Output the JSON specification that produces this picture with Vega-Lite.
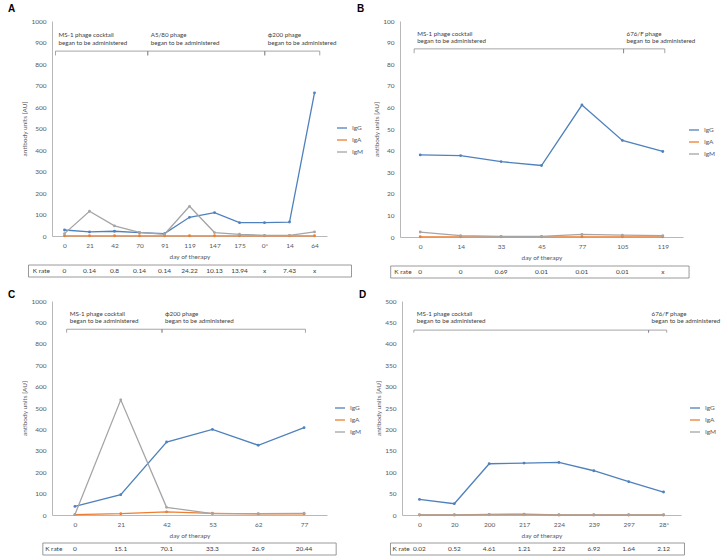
{
  "$schema": "https://vega.github.io/schema/vega-lite/v6.json",
  "padding": {"left": 8, "top": 4, "right": 0, "bottom": 0},
  "config": {
    "view": {"stroke": null},
    "font": "Lato",
    "axis": {"domainColor": "#a6a6a6", "domainWidth": 0.8, "ticks": false, "grid": false, "labelFontSize": 6.5, "labelColor": "#595959", "titleFontSize": 6.5, "titleFontWeight": "normal", "titleColor": "#595959", "labelPadding": 6, "labelOverlap": false, "labelFlush": false},
    "axisX": {"titlePadding": 5},
    "axisY": {"titlePadding": 3, "format": "d"},
    "legend": {"labelFontSize": 6.5, "labelColor": "#595959", "symbolType": "stroke", "symbolSize": 100, "symbolStrokeWidth": 1.3, "rowPadding": 2, "orient": "none", "title": null, "padding": 0},
    "text": {"fontSize": 6.5, "color": "#404040"},
    "title": {"fontSize": 10, "fontWeight": "bold", "font": "Liberation Sans", "anchor": "start", "frame": "group", "color": "#000000"},
    "line": {"strokeWidth": 1.3}
  },
  "datasets": {
    "A": [
      {"idx": 0, "day": "0", "IgG": 28, "IgA": 1, "IgM": 11, "K": "0"},
      {"idx": 1, "day": "21", "IgG": 19, "IgA": 1, "IgM": 115, "K": "0.14"},
      {"idx": 2, "day": "42", "IgG": 22, "IgA": 1, "IgM": 47, "K": "0.8"},
      {"idx": 3, "day": "70", "IgG": 16, "IgA": 1, "IgM": 17, "K": "0.14"},
      {"idx": 4, "day": "91", "IgG": 11, "IgA": 1, "IgM": 8, "K": "0.14"},
      {"idx": 5, "day": "119", "IgG": 87, "IgA": 1, "IgM": 138, "K": "24.22"},
      {"idx": 6, "day": "147", "IgG": 109, "IgA": 1, "IgM": 16, "K": "10.13"},
      {"idx": 7, "day": "175", "IgG": 62, "IgA": 1, "IgM": 8, "K": "13.94"},
      {"idx": 8, "day": "0*", "IgG": 62, "IgA": 1, "IgM": 3, "K": "x"},
      {"idx": 9, "day": "14", "IgG": 65, "IgA": 1, "IgM": 3, "K": "7.43"},
      {"idx": 10, "day": "64", "IgG": 666, "IgA": 1, "IgM": 19, "K": "x"}
    ],
    "B": [
      {"idx": 0, "day": "0", "IgG": 38.0, "IgA": 0.1, "IgM": 2.3, "K": "0"},
      {"idx": 1, "day": "14", "IgG": 37.7, "IgA": 0.1, "IgM": 0.6, "K": "0"},
      {"idx": 2, "day": "33", "IgG": 34.9, "IgA": 0.1, "IgM": 0.3, "K": "0.69"},
      {"idx": 3, "day": "45", "IgG": 33.1, "IgA": 0.1, "IgM": 0.3, "K": "0.01"},
      {"idx": 4, "day": "77", "IgG": 61.1, "IgA": 0.1, "IgM": 1.2, "K": "0.01"},
      {"idx": 5, "day": "105", "IgG": 44.7, "IgA": 0.1, "IgM": 0.9, "K": "0.01"},
      {"idx": 6, "day": "119", "IgG": 39.6, "IgA": 0.1, "IgM": 0.6, "K": "x"}
    ],
    "C": [
      {"idx": 0, "day": "0", "IgG": 40, "IgA": 2, "IgM": 2, "K": "0"},
      {"idx": 1, "day": "21", "IgG": 95, "IgA": 6, "IgM": 538, "K": "15.1"},
      {"idx": 2, "day": "42", "IgG": 341, "IgA": 15, "IgM": 36, "K": "70.1"},
      {"idx": 3, "day": "53", "IgG": 400, "IgA": 8, "IgM": 6, "K": "33.3"},
      {"idx": 4, "day": "62", "IgG": 326, "IgA": 5, "IgM": 6, "K": "26.9"},
      {"idx": 5, "day": "77", "IgG": 408, "IgA": 5, "IgM": 8, "K": "20.44"}
    ],
    "D": [
      {"idx": 0, "day": "0", "IgG": 36.5, "IgA": 0, "IgM": 0.5, "K": "0.02"},
      {"idx": 1, "day": "20", "IgG": 26.4, "IgA": 0, "IgM": 0.5, "K": "0.52"},
      {"idx": 2, "day": "200", "IgG": 119.8, "IgA": 1.5, "IgM": 0.5, "K": "4.61"},
      {"idx": 3, "day": "217", "IgG": 121.3, "IgA": 2, "IgM": 0.5, "K": "1.21"},
      {"idx": 4, "day": "224", "IgG": 122.9, "IgA": 0, "IgM": 0.5, "K": "2.22"},
      {"idx": 5, "day": "239", "IgG": 103.4, "IgA": 0, "IgM": 0.5, "K": "6.92"},
      {"idx": 6, "day": "297", "IgG": 77.8, "IgA": 0, "IgM": 0.5, "K": "1.64"},
      {"idx": 7, "day": "28*", "IgG": 53.7, "IgA": 0, "IgM": 0.5, "K": "2.12"}
    ],
    "A_ph": [
      {"start": -0.36, "end": 3.33, "label": "MS-1 phage cocktail\nbegan to be administered"},
      {"start": 3.33, "end": 8.01, "label": "A5/80 phage\nbegan to be administered"},
      {"start": 8.01, "end": 10.21, "label": "ϕ200 phage\nbegan to be administered"}
    ],
    "B_ph": [
      {"start": -0.15, "end": 5.03, "label": "MS-1 phage cocktail\nbegan to be administered"},
      {"start": 5.03, "end": 6.05, "label": "676/F phage\nbegan to be administered"}
    ],
    "C_ph": [
      {"start": -0.18, "end": 1.9, "label": "MS-1 phage cocktail\nbegan to be administered"},
      {"start": 1.9, "end": 5.03, "label": "ϕ200 phage\nbegan to be administered"}
    ],
    "D_ph": [
      {"start": -0.16, "end": 6.57, "label": "MS-1 phage cocktail\nbegan to be administered"},
      {"start": 6.57, "end": 7.09, "label": "676/F phage\nbegan to be administered"}
    ]
  },
  "resolve": {"scale": {"color": "independent", "x": "independent", "y": "independent"}, "legend": {"color": "independent"}},
  "spacing": 11,
  "vconcat": [
    {
      "spacing": -7,
      "resolve": {"scale": {"color": "independent", "x": "independent", "y": "independent"}, "legend": {"color": "independent"}},
      "hconcat": [
        {
          "spacing": 4,
          "resolve": {"scale": {"color": "independent", "x": "independent", "y": "independent"}, "legend": {"color": "independent"}},
          "vconcat": [
            {
              "width": 275, "height": 215,
              "title": {"text": "A", "dx": -44, "offset": 4},
              "layer": [
                {
                  "data": {"name": "A"},
                  "transform": [{"fold": ["IgG", "IgA", "IgM"], "as": ["series", "value"]}],
                  "mark": {"type": "line", "point": {"filled": true, "size": 8}},
                  "encoding": {
                    "x": {"field": "idx", "type": "quantitative", "title": "day of therapy", "scale": {"domain": [-0.5, 10.5], "nice": false, "zero": false}, "axis": {"labelOverlap": false, "values": [0,1,2,3,4,5,6,7,8,9,10], "labelExpr": "['0','21','42','70','91','119','147','175','0*','14','64'][datum.value]"}},
                    "y": {"field": "value", "type": "quantitative", "title": "antibody units [AU]", "scale": {"domain": [0, 1000], "nice": false}, "axis": {"labelOverlap": false, "values": [0,100,200,300,400,500,600,700,800,900,1000]}},
                    "color": {"field": "series", "type": "nominal", "scale": {"domain": ["IgG", "IgA", "IgM"], "range": ["#4f81bd", "#ed7d31", "#a5a5a5"]}, "legend": {"legendX": 284, "legendY": 101}}
                  }
                },
                {
                  "data": {"name": "A_ph"},
                  "mark": {"type": "rule", "stroke": "#808080", "strokeWidth": 0.7},
                  "encoding": {"x": {"field": "start", "type": "quantitative", "title": "day of therapy", "axis": {"labelOverlap": false, "values": [0,1,2,3,4,5,6,7,8,9,10], "labelExpr": "['0','21','42','70','91','119','147','175','0*','14','64'][datum.value]"}}, "x2": {"field": "end"}, "y": {"datum": 860, "type": "quantitative", "title": "antibody units [AU]", "axis": {"labelOverlap": false, "values": [0,100,200,300,400,500,600,700,800,900,1000]}}}
                },
                {
                  "data": {"name": "A_ph"},
                  "mark": {"type": "rule", "stroke": "#808080", "strokeWidth": 0.7},
                  "encoding": {"x": {"field": "start", "type": "quantitative", "title": "day of therapy", "axis": {"labelOverlap": false, "values": [0,1,2,3,4,5,6,7,8,9,10], "labelExpr": "['0','21','42','70','91','119','147','175','0*','14','64'][datum.value]"}}, "y": {"datum": 860, "type": "quantitative", "title": "antibody units [AU]", "axis": {"labelOverlap": false, "values": [0,100,200,300,400,500,600,700,800,900,1000]}}, "y2": {"datum": 840}}
                },
                {
                  "data": {"name": "A_ph"},
                  "mark": {"type": "rule", "stroke": "#808080", "strokeWidth": 0.7},
                  "encoding": {"x": {"field": "end", "type": "quantitative", "title": "day of therapy", "axis": {"labelOverlap": false, "values": [0,1,2,3,4,5,6,7,8,9,10], "labelExpr": "['0','21','42','70','91','119','147','175','0*','14','64'][datum.value]"}}, "y": {"datum": 860, "type": "quantitative", "title": "antibody units [AU]", "axis": {"labelOverlap": false, "values": [0,100,200,300,400,500,600,700,800,900,1000]}}, "y2": {"datum": 840}}
                },
                {
                  "data": {"name": "A_ph"},
                  "mark": {"type": "text", "align": "left", "baseline": "top", "dx": 3, "lineBreak": "\n", "lineHeight": 7.3, "fontSize": 6.2},
                  "encoding": {"x": {"field": "start", "type": "quantitative", "title": "day of therapy", "axis": {"labelOverlap": false, "values": [0,1,2,3,4,5,6,7,8,9,10], "labelExpr": "['0','21','42','70','91','119','147','175','0*','14','64'][datum.value]"}}, "y": {"datum": 947, "type": "quantitative", "title": "antibody units [AU]", "axis": {"labelOverlap": false, "values": [0,100,200,300,400,500,600,700,800,900,1000]}}, "text": {"field": "label"}}
                }
              ]
            },
            {
              "width": 275, "height": 12,
              "layer": [
                {
                  "data": {"values": [{}]},
                  "mark": {"type": "rect", "fillOpacity": 0, "stroke": "#808080", "strokeWidth": 0.8},
                  "encoding": {"x": {"datum": -1.44, "type": "quantitative", "scale": {"domain": [-0.5, 10.5], "nice": false, "zero": false}, "axis": null}, "x2": {"datum": 11.48}}
                },
                {
                  "data": {"name": "A"},
                  "mark": {"type": "text"},
                  "encoding": {"x": {"field": "idx", "type": "quantitative", "axis": null}, "text": {"field": "K"}}
                },
                {
                  "data": {"values": [{}]},
                  "mark": {"type": "text", "align": "left"},
                  "encoding": {"x": {"datum": -1.27, "type": "quantitative", "axis": null}, "text": {"value": "K rate"}}
                }
              ]
            }
          ]
        },
        {
          "spacing": 4,
          "resolve": {"scale": {"color": "independent", "x": "independent", "y": "independent"}, "legend": {"color": "independent"}},
          "vconcat": [
            {
              "width": 283, "height": 216,
              "title": {"text": "B", "dx": -43, "offset": 4},
              "layer": [
                {
                  "data": {"name": "B"},
                  "transform": [{"fold": ["IgG", "IgA", "IgM"], "as": ["series", "value"]}],
                  "mark": {"type": "line", "point": {"filled": true, "size": 8}},
                  "encoding": {
                    "x": {"field": "idx", "type": "quantitative", "title": "day of therapy", "scale": {"domain": [-0.5, 6.5], "nice": false, "zero": false}, "axis": {"labelOverlap": false, "values": [0,1,2,3,4,5,6], "labelExpr": "['0','14','33','45','77','105','119'][datum.value]"}},
                    "y": {"field": "value", "type": "quantitative", "title": "antibody units [AU]", "scale": {"domain": [0, 100], "nice": false}, "axis": {"labelOverlap": false, "values": [0,10,20,30,40,50,60,70,80,90,100]}},
                    "color": {"field": "series", "type": "nominal", "scale": {"domain": ["IgG", "IgA", "IgM"], "range": ["#4f81bd", "#ed7d31", "#a5a5a5"]}, "legend": {"legendX": 288, "legendY": 103}}
                  }
                },
                {
                  "data": {"name": "B_ph"},
                  "mark": {"type": "rule", "stroke": "#808080", "strokeWidth": 0.7},
                  "encoding": {"x": {"field": "start", "type": "quantitative", "title": "day of therapy", "axis": {"labelOverlap": false, "values": [0,1,2,3,4,5,6], "labelExpr": "['0','14','33','45','77','105','119'][datum.value]"}}, "x2": {"field": "end"}, "y": {"datum": 87.1, "type": "quantitative", "title": "antibody units [AU]", "axis": {"labelOverlap": false, "values": [0,10,20,30,40,50,60,70,80,90,100]}}}
                },
                {
                  "data": {"name": "B_ph"},
                  "mark": {"type": "rule", "stroke": "#808080", "strokeWidth": 0.7},
                  "encoding": {"x": {"field": "start", "type": "quantitative", "title": "day of therapy", "axis": {"labelOverlap": false, "values": [0,1,2,3,4,5,6], "labelExpr": "['0','14','33','45','77','105','119'][datum.value]"}}, "y": {"datum": 87.1, "type": "quantitative", "title": "antibody units [AU]", "axis": {"labelOverlap": false, "values": [0,10,20,30,40,50,60,70,80,90,100]}}, "y2": {"datum": 85.1}}
                },
                {
                  "data": {"name": "B_ph"},
                  "mark": {"type": "rule", "stroke": "#808080", "strokeWidth": 0.7},
                  "encoding": {"x": {"field": "end", "type": "quantitative", "title": "day of therapy", "axis": {"labelOverlap": false, "values": [0,1,2,3,4,5,6], "labelExpr": "['0','14','33','45','77','105','119'][datum.value]"}}, "y": {"datum": 87.1, "type": "quantitative", "title": "antibody units [AU]", "axis": {"labelOverlap": false, "values": [0,10,20,30,40,50,60,70,80,90,100]}}, "y2": {"datum": 85.1}}
                },
                {
                  "data": {"name": "B_ph"},
                  "mark": {"type": "text", "align": "left", "baseline": "top", "dx": 3, "lineBreak": "\n", "lineHeight": 7.3, "fontSize": 6.2},
                  "encoding": {"x": {"field": "start", "type": "quantitative", "title": "day of therapy", "axis": {"labelOverlap": false, "values": [0,1,2,3,4,5,6], "labelExpr": "['0','14','33','45','77','105','119'][datum.value]"}}, "y": {"datum": 95.5, "type": "quantitative", "title": "antibody units [AU]", "axis": {"labelOverlap": false, "values": [0,10,20,30,40,50,60,70,80,90,100]}}, "text": {"field": "label"}}
                }
              ]
            },
            {
              "width": 283, "height": 12,
              "layer": [
                {
                  "data": {"values": [{}]},
                  "mark": {"type": "rect", "fillOpacity": 0, "stroke": "#808080", "strokeWidth": 0.8},
                  "encoding": {"x": {"datum": -0.73, "type": "quantitative", "scale": {"domain": [-0.5, 6.5], "nice": false, "zero": false}, "axis": null}, "x2": {"datum": 6.65}}
                },
                {
                  "data": {"name": "B"},
                  "mark": {"type": "text"},
                  "encoding": {"x": {"field": "idx", "type": "quantitative", "axis": null}, "text": {"field": "K"}}
                },
                {
                  "data": {"values": [{}]},
                  "mark": {"type": "text", "align": "left"},
                  "encoding": {"x": {"datum": -0.64, "type": "quantitative", "axis": null}, "text": {"value": "K rate"}}
                }
              ]
            }
          ]
        }
      ]
    },
    {
      "spacing": -3,
      "resolve": {"scale": {"color": "independent", "x": "independent", "y": "independent"}, "legend": {"color": "independent"}},
      "hconcat": [
        {
          "spacing": 3,
          "resolve": {"scale": {"color": "independent", "x": "independent", "y": "independent"}, "legend": {"color": "independent"}},
          "vconcat": [
            {
              "width": 275, "height": 214,
              "title": {"text": "C", "dx": -44, "offset": -2},
              "layer": [
                {
                  "data": {"name": "C"},
                  "transform": [{"fold": ["IgG", "IgA", "IgM"], "as": ["series", "value"]}],
                  "mark": {"type": "line", "point": {"filled": true, "size": 8}},
                  "encoding": {
                    "x": {"field": "idx", "type": "quantitative", "title": "day of therapy", "scale": {"domain": [-0.5, 5.5], "nice": false, "zero": false}, "axis": {"labelOverlap": false, "values": [0,1,2,3,4,5], "labelExpr": "['0','21','42','53','62','77'][datum.value]"}},
                    "y": {"field": "value", "type": "quantitative", "title": "antibody units [AU]", "scale": {"domain": [0, 1000], "nice": false}, "axis": {"labelOverlap": false, "values": [0,100,200,300,400,500,600,700,800,900,1000]}},
                    "color": {"field": "series", "type": "nominal", "scale": {"domain": ["IgG", "IgA", "IgM"], "range": ["#4f81bd", "#ed7d31", "#a5a5a5"]}, "legend": {"legendX": 282, "legendY": 101}}
                  }
                },
                {
                  "data": {"name": "C_ph"},
                  "mark": {"type": "rule", "stroke": "#808080", "strokeWidth": 0.7},
                  "encoding": {"x": {"field": "start", "type": "quantitative", "title": "day of therapy", "axis": {"labelOverlap": false, "values": [0,1,2,3,4,5], "labelExpr": "['0','21','42','53','62','77'][datum.value]"}}, "x2": {"field": "end"}, "y": {"datum": 868, "type": "quantitative", "title": "antibody units [AU]", "axis": {"labelOverlap": false, "values": [0,100,200,300,400,500,600,700,800,900,1000]}}}
                },
                {
                  "data": {"name": "C_ph"},
                  "mark": {"type": "rule", "stroke": "#808080", "strokeWidth": 0.7},
                  "encoding": {"x": {"field": "start", "type": "quantitative", "title": "day of therapy", "axis": {"labelOverlap": false, "values": [0,1,2,3,4,5], "labelExpr": "['0','21','42','53','62','77'][datum.value]"}}, "y": {"datum": 868, "type": "quantitative", "title": "antibody units [AU]", "axis": {"labelOverlap": false, "values": [0,100,200,300,400,500,600,700,800,900,1000]}}, "y2": {"datum": 852}}
                },
                {
                  "data": {"name": "C_ph"},
                  "mark": {"type": "rule", "stroke": "#808080", "strokeWidth": 0.7},
                  "encoding": {"x": {"field": "end", "type": "quantitative", "title": "day of therapy", "axis": {"labelOverlap": false, "values": [0,1,2,3,4,5], "labelExpr": "['0','21','42','53','62','77'][datum.value]"}}, "y": {"datum": 868, "type": "quantitative", "title": "antibody units [AU]", "axis": {"labelOverlap": false, "values": [0,100,200,300,400,500,600,700,800,900,1000]}}, "y2": {"datum": 852}}
                },
                {
                  "data": {"name": "C_ph"},
                  "mark": {"type": "text", "align": "left", "baseline": "top", "dx": 3, "lineBreak": "\n", "lineHeight": 7.3, "fontSize": 6.2},
                  "encoding": {"x": {"field": "start", "type": "quantitative", "title": "day of therapy", "axis": {"labelOverlap": false, "values": [0,1,2,3,4,5], "labelExpr": "['0','21','42','53','62','77'][datum.value]"}}, "y": {"datum": 955, "type": "quantitative", "title": "antibody units [AU]", "axis": {"labelOverlap": false, "values": [0,100,200,300,400,500,600,700,800,900,1000]}}, "text": {"field": "label"}}
                }
              ]
            },
            {
              "width": 275, "height": 12,
              "layer": [
                {
                  "data": {"values": [{}]},
                  "mark": {"type": "rect", "fillOpacity": 0, "stroke": "#808080", "strokeWidth": 0.8},
                  "encoding": {"x": {"datum": -0.7, "type": "quantitative", "scale": {"domain": [-0.5, 5.5], "nice": false, "zero": false}, "axis": null}, "x2": {"datum": 5.7}}
                },
                {
                  "data": {"name": "C"},
                  "mark": {"type": "text"},
                  "encoding": {"x": {"field": "idx", "type": "quantitative", "axis": null}, "text": {"field": "K"}}
                },
                {
                  "data": {"values": [{}]},
                  "mark": {"type": "text", "align": "left"},
                  "encoding": {"x": {"datum": -0.65, "type": "quantitative", "axis": null}, "text": {"value": "K rate"}}
                }
              ]
            }
          ]
        },
        {
          "spacing": 3,
          "resolve": {"scale": {"color": "independent", "x": "independent", "y": "independent"}, "legend": {"color": "independent"}},
          "vconcat": [
            {
              "width": 279, "height": 214,
              "title": {"text": "D", "dx": -43, "offset": -2},
              "layer": [
                {
                  "data": {"name": "D"},
                  "transform": [{"fold": ["IgG", "IgA", "IgM"], "as": ["series", "value"]}],
                  "mark": {"type": "line", "point": {"filled": true, "size": 8}},
                  "encoding": {
                    "x": {"field": "idx", "type": "quantitative", "title": "day of therapy", "scale": {"domain": [-0.5, 7.5], "nice": false, "zero": false}, "axis": {"labelOverlap": false, "values": [0,1,2,3,4,5,6,7], "labelExpr": "['0','20','200','217','224','239','297','28*'][datum.value]"}},
                    "y": {"field": "value", "type": "quantitative", "title": "antibody units [AU]", "scale": {"domain": [0, 500], "nice": false}, "axis": {"labelOverlap": false, "values": [0,50,100,150,200,250,300,350,400,450,500]}},
                    "color": {"field": "series", "type": "nominal", "scale": {"domain": ["IgG", "IgA", "IgM"], "range": ["#4f81bd", "#ed7d31", "#a5a5a5"]}, "legend": {"legendX": 287, "legendY": 101}}
                  }
                },
                {
                  "data": {"name": "D_ph"},
                  "mark": {"type": "rule", "stroke": "#808080", "strokeWidth": 0.7},
                  "encoding": {"x": {"field": "start", "type": "quantitative", "title": "day of therapy", "axis": {"labelOverlap": false, "values": [0,1,2,3,4,5,6,7], "labelExpr": "['0','20','200','217','224','239','297','28*'][datum.value]"}}, "x2": {"field": "end"}, "y": {"datum": 432, "type": "quantitative", "title": "antibody units [AU]", "axis": {"labelOverlap": false, "values": [0,50,100,150,200,250,300,350,400,450,500]}}}
                },
                {
                  "data": {"name": "D_ph"},
                  "mark": {"type": "rule", "stroke": "#808080", "strokeWidth": 0.7},
                  "encoding": {"x": {"field": "start", "type": "quantitative", "title": "day of therapy", "axis": {"labelOverlap": false, "values": [0,1,2,3,4,5,6,7], "labelExpr": "['0','20','200','217','224','239','297','28*'][datum.value]"}}, "y": {"datum": 432, "type": "quantitative", "title": "antibody units [AU]", "axis": {"labelOverlap": false, "values": [0,50,100,150,200,250,300,350,400,450,500]}}, "y2": {"datum": 426}}
                },
                {
                  "data": {"name": "D_ph"},
                  "mark": {"type": "rule", "stroke": "#808080", "strokeWidth": 0.7},
                  "encoding": {"x": {"field": "end", "type": "quantitative", "title": "day of therapy", "axis": {"labelOverlap": false, "values": [0,1,2,3,4,5,6,7], "labelExpr": "['0','20','200','217','224','239','297','28*'][datum.value]"}}, "y": {"datum": 432, "type": "quantitative", "title": "antibody units [AU]", "axis": {"labelOverlap": false, "values": [0,50,100,150,200,250,300,350,400,450,500]}}, "y2": {"datum": 426}}
                },
                {
                  "data": {"name": "D_ph"},
                  "mark": {"type": "text", "align": "left", "baseline": "top", "dx": 3, "lineBreak": "\n", "lineHeight": 7.3, "fontSize": 6.2},
                  "encoding": {"x": {"field": "start", "type": "quantitative", "title": "day of therapy", "axis": {"labelOverlap": false, "values": [0,1,2,3,4,5,6,7], "labelExpr": "['0','20','200','217','224','239','297','28*'][datum.value]"}}, "y": {"datum": 476.6, "type": "quantitative", "title": "antibody units [AU]", "axis": {"labelOverlap": false, "values": [0,50,100,150,200,250,300,350,400,450,500]}}, "text": {"field": "label"}}
                }
              ]
            },
            {
              "width": 279, "height": 12,
              "layer": [
                {
                  "data": {"values": [{}]},
                  "mark": {"type": "rect", "fillOpacity": 0, "stroke": "#808080", "strokeWidth": 0.8},
                  "encoding": {"x": {"datum": -0.83, "type": "quantitative", "scale": {"domain": [-0.5, 7.5], "nice": false, "zero": false}, "axis": null}, "x2": {"datum": 7.6}}
                },
                {
                  "data": {"name": "D"},
                  "mark": {"type": "text"},
                  "encoding": {"x": {"field": "idx", "type": "quantitative", "axis": null}, "text": {"field": "K"}}
                },
                {
                  "data": {"values": [{}]},
                  "mark": {"type": "text", "align": "left"},
                  "encoding": {"x": {"datum": -0.77, "type": "quantitative", "axis": null}, "text": {"value": "K rate"}}
                }
              ]
            }
          ]
        }
      ]
    }
  ]
}
